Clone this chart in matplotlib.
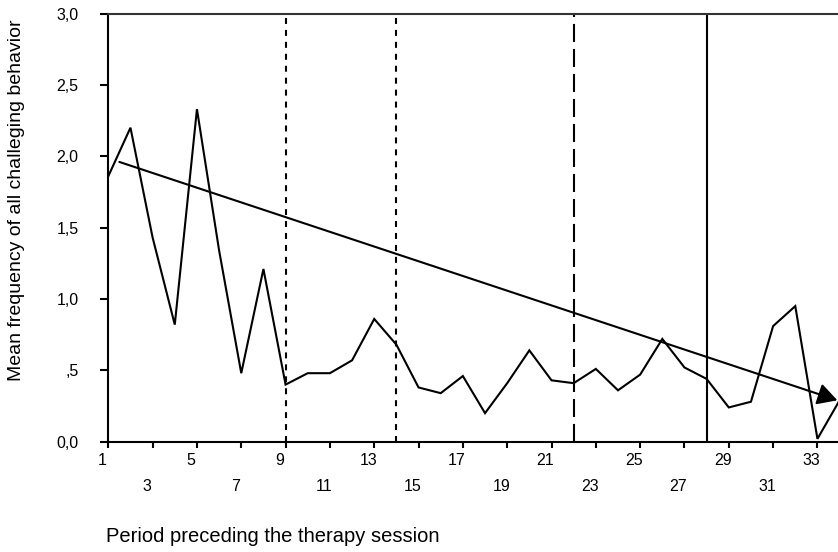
import matplotlib
matplotlib.use("Agg")
import matplotlib.pyplot as plt
import matplotlib.transforms as mtransforms

plt.rcParams['font.family'] = ['Liberation Sans', 'DejaVu Sans']
plt.rcParams['lines.scale_dashes'] = False

sessions = list(range(1, 35))
values = [1.86, 2.20, 1.43, 0.82, 2.33, 1.34, 0.48, 1.21, 0.40, 0.48,
          0.48, 0.57, 0.86, 0.68, 0.38, 0.34, 0.46, 0.20, 0.41, 0.64,
          0.43, 0.41, 0.51, 0.36, 0.47, 0.72, 0.52, 0.44, 0.24, 0.28,
          0.81, 0.95, 0.02, 0.29]
trend_x = [1.5, 33.9]
trend_y = [1.96, 0.29]
phase_x = [9, 14, 22, 28]
phase_styles = ['short', 'short', 'long', 'solid']
xtick_row1 = [1, 5, 9, 13, 17, 21, 25, 29, 33]
xtick_row2 = [3, 7, 11, 15, 19, 23, 27, 31]
ytick_vals = [0.0, 0.5, 1.0, 1.5, 2.0, 2.5, 3.0]
ytick_labels = ['0,0', ',5', '1,0', '1,5', '2,0', '2,5', '3,0']

fig = plt.figure(figsize=(8.38, 5.52), dpi=100)
ax = fig.add_axes([108.3 / 838, 1 - 441.7 / 552, (839.6 - 108.3) / 838, (441.7 - 13.5) / 552])

ax.plot(sessions, values, color='black', lw=1.5, solid_joinstyle='miter')

for xv, st in zip(phase_x, phase_styles):
    if st == 'short':
        ax.axvline(xv, color='black', lw=1.5, dashes=(4.3, 4.3))
    elif st == 'long':
        ax.axvline(xv, color='black', lw=1.5, dashes=(13, 5))
    else:
        ax.axvline(xv, color='black', lw=1.5)

ax.annotate('', xy=(trend_x[1], trend_y[1]), xytext=(trend_x[0], trend_y[0]),
            arrowprops=dict(arrowstyle='-|>,head_length=0.4,head_width=0.22',
                            lw=1.5, color='black', mutation_scale=30,
                            shrinkA=0, shrinkB=0),
            annotation_clip=False)

ax.set_xlim(1, 34)
ax.set_ylim(0, 3.0)

ax.set_yticks(ytick_vals)
ax.set_yticklabels(ytick_labels)
ax.set_xticks(xtick_row1)
ax.set_xticklabels([str(v) for v in xtick_row1])
ax.set_xticks(xtick_row2, minor=True)
ax.set_xticklabels([str(v) for v in xtick_row2], minor=True)

ax.tick_params(axis='y', direction='out', length=5.8, width=1.5, pad=15.5, labelsize=11.5)
ax.tick_params(axis='x', which='major', direction='out', length=4, width=1.5, pad=4, labelsize=11.5)
ax.tick_params(axis='x', which='minor', direction='out', length=4, width=1.5, pad=22.5, labelsize=11.5)

for sp in ax.spines.values():
    sp.set_linewidth(1.5)
ax.spines['top'].set_color('#333333')

offset = mtransforms.ScaledTranslation(-6 / 100, 0, fig.dpi_scale_trans)
for lab in ax.get_xticklabels(which='both'):
    lab.set_transform(lab.get_transform() + offset)

fig.text(17 / 838, 1 - 200 / 552, 'Mean frequency of all challeging behavior',
         rotation=90, ha='center', va='center', fontsize=14)
fig.text(106 / 838, 1 - 542 / 552, 'Period preceding the therapy session',
         ha='left', va='baseline', fontsize=14.5)

fig.savefig('out.png', dpi=100)
